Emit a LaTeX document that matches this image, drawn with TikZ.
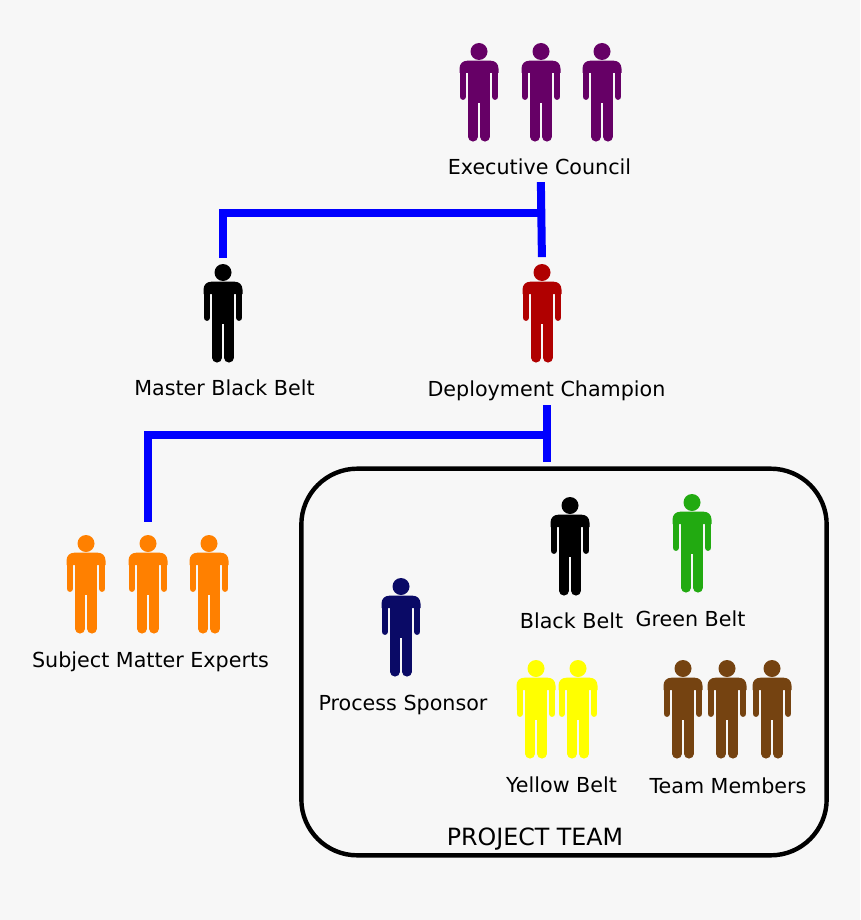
\documentclass[tikz,border=0pt]{standalone}
\usepackage{fontspec}
\setmainfont{DejaVu Sans}
\usepackage{tikz}
\usetikzlibrary{positioning,calc}

\definecolor{pagegray}{HTML}{F7F7F7}
\definecolor{councilpurple}{HTML}{660066}
\definecolor{championred}{HTML}{B00000}
\definecolor{expertorange}{HTML}{FF8000}
\definecolor{sponsornavy}{HTML}{0A0A66}
\definecolor{beltgreen}{HTML}{22AA11}
\definecolor{beltyellow}{HTML}{FFFF00}
\definecolor{memberbrown}{HTML}{754311}
\definecolor{linkblue}{HTML}{0000FF}

\begin{document}
\begin{tikzpicture}[
  x=0.75pt, y=-0.75pt,
  lbl/.style={inner sep=0pt, text height=11pt, text depth=3.5pt, font=\fontsize{15.5}{17}\selectfont},
  link/.style={draw=linkblue, line width=6pt},
  pics/person/.style={code={
    \node[inner sep=0pt, minimum width=29.25pt, minimum height=73.5pt] (-box) at (0,49) {};
    \fill[#1] (0,8.5) circle [radius=8.5];
    \fill[#1] (-19.5,30) -- (-19.5,25.7) .. controls (-19.5,20.5) and (-16,17.7) .. (-11.5,17.7)
      -- (11.5,17.7) .. controls (16,17.7) and (19.5,20.5) .. (19.5,25.7) -- (19.5,30) -- cycle;
    \fill[#1] (-10.6,20) rectangle (10.6,60);
    \draw[#1, line width=5pt, line cap=round] (-16.1,28) -- (-16.1,53.6);
    \draw[#1, line width=5pt, line cap=round] (16.1,28) -- (16.1,53.6);
    \draw[#1, line width=7.3pt, line cap=round] (-5.9,50) -- (-5.9,93.7);
    \draw[#1, line width=7.3pt, line cap=round] (5.9,50) -- (5.9,93.7);
  }}
]
  \fill[pagegray] (0,0) rectangle (860,920);

  % people
  \pic (councilA) at (479,43) {person=councilpurple};
  \pic (councilB) at (541,43) {person=councilpurple};
  \pic (councilC) at (602,43) {person=councilpurple};
  \pic (master) at (223,264) {person=black};
  \pic (champion) at (542,264) {person=championred};
  \pic (expertA) at (86,535) {person=expertorange};
  \pic (expertB) at (148,535) {person=expertorange};
  \pic (expertC) at (209,535) {person=expertorange};
  \pic (black) at (570,497) {person=black};
  \pic (green) at (692,494) {person=beltgreen};
  \pic (sponsor) at (401,578) {person=sponsornavy};
  \pic (yellowA) at (536,660) {person=beltyellow};
  \pic (yellowB) at (578,660) {person=beltyellow};
  \pic (memberA) at (683,660) {person=memberbrown};
  \pic (memberB) at (727,660) {person=memberbrown};
  \pic (memberC) at (772,660) {person=memberbrown};

  % labels
  \node[lbl] (councilLbl) at (539.5,169.5) {Executive Council};
  \node[lbl] (masterLbl) at (224.5,390.5) {Master Black Belt};
  \node[lbl] (championLbl) at (546.5,391.5) {Deployment Champion};
  \node[lbl] (expertLbl) at (150.5,662.5) {Subject Matter Experts};
  \node[lbl] (sponsorLbl) at (403,705.5) {Process Sponsor};
  \node[lbl] (blackLbl) at (571.5,623.5) {Black Belt};
  \node[lbl] (greenLbl) at (690.5,621.5) {Green Belt};
  \node[lbl] (yellowLbl) at (561.5,787.5) {Yellow Belt};
  \node[lbl] (memberLbl) at (728,788.5) {Team Members};
  \node[lbl, font=\fontsize{17.8}{20}\selectfont] (teamLbl) at (535,840.5) {PROJECT TEAM};

  \node[draw, line width=3.3pt, rounded corners=42pt, inner sep=0pt,
    minimum width=394pt, minimum height=290pt] (team) at (564,662) {};

  % links
  \coordinate (joinA) at (541.5,213);
  \coordinate (joinB) at (546.5,435);
  \draw[link, shorten <=2pt, shorten >=5pt] ([xshift=1pt]councilLbl.south) -- (champion-box.north);
  \draw[link, shorten >=4.5pt] (joinA) -- (joinA -| master-box.north) -- (master-box.north);
  \draw[link, shorten <=3pt, shorten >=3pt] (championLbl.south) -- (championLbl.south |- team.north);
  \draw[link, shorten >=9.5pt] (joinB) -- (joinB -| expertB-box.north) -- (expertB-box.north);
\end{tikzpicture}
\end{document}
